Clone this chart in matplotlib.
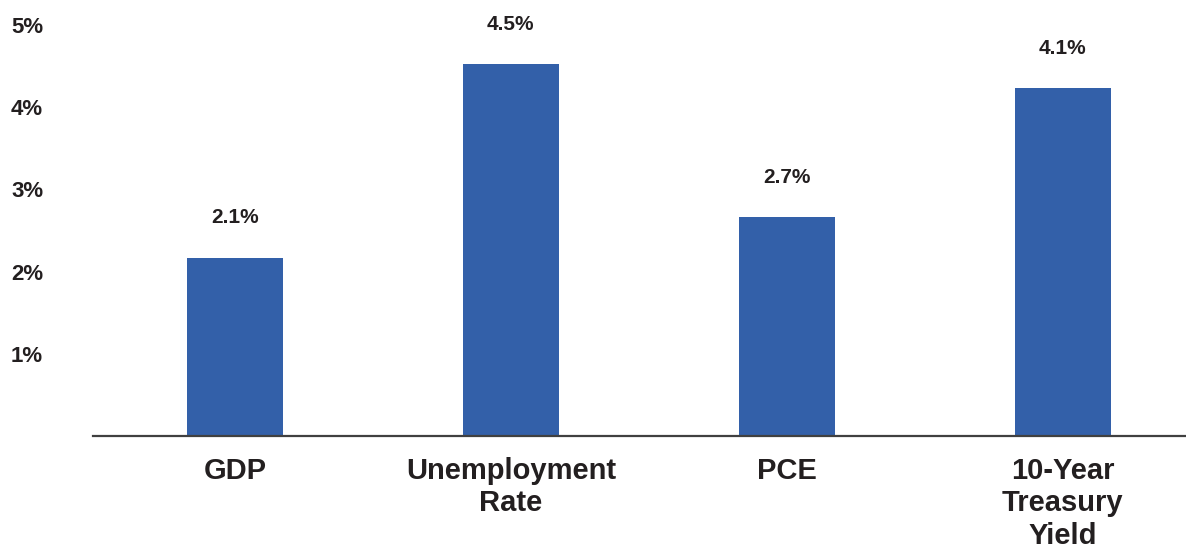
import matplotlib
matplotlib.use("Agg")
import matplotlib.pyplot as plt
import numpy as np

categories = ["GDP", "Unemployment\nRate", "PCE", "10-Year\nTreasury\nYield"]
values = [2.17, 4.52, 2.66, 4.23]
value_labels = ["2.1%", "4.5%", "2.7%", "4.1%"]
y_ticks = [1, 2, 3, 4, 5]
y_tick_labels = ["1%", "2%", "3%", "4%", "5%"]

BAR_COLOR = "#3360a9"
TEXT_COLOR = "#231f20"

plt.rcParams["font.family"] = ["Liberation Sans", "DejaVu Sans"]
plt.rcParams["font.weight"] = "bold"

fig = plt.figure(figsize=(11.86, 5.5), dpi=100)
ax = fig.add_axes([0.0784, 0.2073, 0.9216, 0.7472])

x = np.arange(len(categories))
bars = ax.bar(x, values, width=0.35, color=BAR_COLOR)

# value labels above bars
for bar, lab in zip(bars, value_labels):
    ax.annotate(lab, (bar.get_x() + bar.get_width() / 2, bar.get_height()),
                xytext=(0, 29), textcoords="offset points",
                ha="center", va="center", fontsize=15,
                fontweight="bold", color=TEXT_COLOR)

ax.set_xlim(-0.514, 3.446)
ax.set_ylim(0, 5)
ax.set_xticks(x)
ax.set_xticklabels(categories, fontsize=21, fontweight="bold",
                   color=TEXT_COLOR, linespacing=1.2)
ax.set_yticks(y_ticks)
ax.set_yticklabels(y_tick_labels, fontsize=16, fontweight="bold",
                   color=TEXT_COLOR)
for lab in ax.get_yticklabels():
    lab.set_horizontalalignment("left")
ax.tick_params(axis="y", length=0, pad=59)
ax.tick_params(axis="x", length=0, pad=15)

for side in ["top", "right", "left"]:
    ax.spines[side].set_visible(False)
ax.spines["bottom"].set_color("#404040")
ax.spines["bottom"].set_linewidth(1.6)

fig.savefig("out.png", dpi=100)
